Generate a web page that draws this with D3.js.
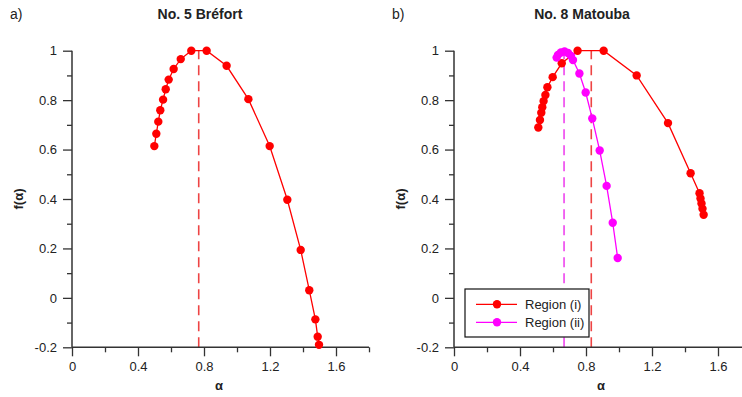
<!DOCTYPE html>
<html>
<head>
<meta charset="utf-8">
<script src="https://cdn.jsdelivr.net/npm/d3@7"></script>
<style>
  body { margin: 0; background: #fff; }
  svg { font-family: "Liberation Sans", Arial, sans-serif; }
</style>
</head>
<body>
<svg width="742" height="397"></svg>
<script>
// data
let brefortAlpha = [0.499, 0.511, 0.523, 0.535, 0.552, 0.568, 0.586, 0.616, 0.659, 0.723,
                    0.816, 0.937, 1.069, 1.198, 1.305, 1.386, 1.438, 1.475, 1.489, 1.497]
let brefortF     = [0.614, 0.664, 0.713, 0.759, 0.802, 0.844, 0.883, 0.926, 0.966, 1.0,
                    1.0, 0.939, 0.804, 0.614, 0.397, 0.194, 0.031, -0.087, -0.157, -0.19]
let brefortPeak = 0.768

let matoubaAlpha1 = [0.511, 0.521, 0.529, 0.535, 0.543, 0.554, 0.566, 0.598, 0.653, 0.749,
                     0.907, 1.107, 1.297, 1.434, 1.488, 1.494, 1.500, 1.506, 1.513]
let matoubaF1     = [0.689, 0.720, 0.749, 0.771, 0.796, 0.821, 0.852, 0.893, 0.949, 1.0,
                     1.0, 0.900, 0.707, 0.504, 0.423, 0.402, 0.382, 0.361, 0.336]
let matoubaPeak1 = 0.832

let matoubaAlpha2 = [0.622, 0.630, 0.648, 0.670, 0.691, 0.709, 0.721, 0.760, 0.798, 0.838, 0.883, 0.925, 0.962, 0.992]
let matoubaF2     = [0.972, 0.983, 0.993, 0.997, 0.991, 0.979, 0.962, 0.908, 0.831, 0.726, 0.596, 0.453, 0.304, 0.161]
let matoubaPeak2 = 0.667

let xMajor = [0, 0.4, 0.8, 1.2, 1.6]
let xMinor = [0.2, 0.6, 1.0, 1.4, 1.8]
let yMajor = [-0.2, 0, 0.2, 0.4, 0.6, 0.8, 1]
let yMinor = [-0.1, 0.1, 0.3, 0.5, 0.7, 0.9]
let legendLabels = ["Region (i)", "Region (ii)"]

let red = "#ff0000", magenta = "#ff00ff"

let svg = d3.select("svg")

let panels = [
  { left: 72, letter: "a)", title: "No. 5 Bréfort",
    series: [{ a: brefortAlpha, f: brefortF, color: red, peak: brefortPeak, dash: "#ee4444" }] },
  { left: 454, letter: "b)", title: "No. 8 Matouba", legend: true,
    series: [{ a: matoubaAlpha1, f: matoubaF1, color: red, peak: matoubaPeak1, dash: "#ee4444" },
             { a: matoubaAlpha2, f: matoubaF2, color: magenta, peak: matoubaPeak2, dash: "#ee44ee" }] }
]

let yTop = 50.7, yBottom = 347.3
let fmt = function(d){ return String(d) }  // plain hyphen minus like the original

panels.forEach(function(p){
  let x = d3.scaleLinear().domain([0, 1.8]).range([p.left, p.left + 297])
  let y = d3.scaleLinear().domain([-0.2, 1]).range([yBottom, yTop])
  let g = svg.append("g")

  // dashed peak lines first
  p.series.forEach(function(s){
    g.append("line")
      .attr("x1", x(s.peak)).attr("x2", x(s.peak))
      .attr("y1", y(-0.2)).attr("y2", y(1))
      .attr("stroke", s.dash)
      .attr("stroke-width", 1.6)
      .attr("stroke-dasharray", "10,6")
  })

  // axes
  let xAx = g.append("g").attr("transform", "translate(0," + yBottom + ")")
    .call(d3.axisBottom(x).tickValues(xMajor).tickSize(9).tickPadding(5).tickFormat(fmt))
  let xMin = g.append("g").attr("transform", "translate(0," + yBottom + ")")
    .call(d3.axisBottom(x).tickValues(xMinor).tickSize(5).tickFormat(""))
  let yAx = g.append("g").attr("transform", "translate(" + p.left + ",0)")
    .call(d3.axisLeft(y).tickValues(yMajor).tickSize(9).tickPadding(6).tickFormat(fmt))
  let yMin = g.append("g").attr("transform", "translate(" + p.left + ",0)")
    .call(d3.axisLeft(y).tickValues(yMinor).tickSize(5).tickFormat(""))

  ;[xAx, xMin, yAx, yMin].forEach(function(a){
    a.select(".domain").attr("stroke", "#333").attr("stroke-width", 1.5)
    a.selectAll(".tick line").attr("stroke", "#333").attr("stroke-width", 1.3)
    a.selectAll("text").attr("font-size", 13).attr("fill", "#222")
      .attr("font-family", "'Liberation Sans', Arial, sans-serif")
  })
  // make the domain lines plain (no outer ticks)
  xAx.select(".domain").attr("d", "M" + p.left + ",0H" + (p.left + 297))
  xMin.select(".domain").remove()
  yAx.select(".domain").attr("d", "M0," + yTop + "V" + yBottom)
  yMin.select(".domain").remove()

  // series
  let line = d3.line().x(function(d){ return x(d[0]) }).y(function(d){ return y(d[1]) })
  p.series.forEach(function(s){
    let pts = s.a.map(function(v, i){ return [v, s.f[i]] })
    g.append("path").datum(pts)
      .attr("d", line)
      .attr("fill", "none")
      .attr("stroke", s.color)
      .attr("stroke-width", 1.3)
    g.selectAll(null).data(pts).enter()
      .append("circle")
        .attr("cx", function(d){ return x(d[0]) })
        .attr("cy", function(d){ return y(d[1]) })
        .attr("r", 4.2)
        .attr("fill", s.color)
  })

  // texts
  g.append("text").attr("x", p.left - 62).attr("y", 19)
    .attr("font-size", 14).attr("fill", "#222").text(p.letter)
  g.append("text").attr("x", p.left + 128).attr("y", 19)
    .attr("text-anchor", "middle").attr("font-size", 14).attr("font-weight", "bold")
    .attr("fill", "#222").text(p.title)
  g.append("text").attr("x", p.left + 147).attr("y", 390)
    .attr("text-anchor", "middle").attr("font-size", 13).attr("font-weight", "bold")
    .attr("fill", "#222").text("α")
  g.append("text")
    .attr("transform", "translate(" + (p.left - 49) + "," + ((yTop + yBottom) / 2) + ") rotate(-90)")
    .attr("text-anchor", "middle").attr("font-size", 13).attr("font-weight", "bold")
    .attr("fill", "#222").text("f(α)")

  if (p.legend) {
    let lg = g.append("g")
    lg.append("rect")
      .attr("x", 465).attr("y", 289).attr("width", 124).attr("height", 48)
      .attr("fill", "#fff").attr("stroke", "#111").attr("stroke-width", 1.2)
    p.series.forEach(function(s, i){
      let yy = 304.3 + i * 18
      lg.append("line").attr("x1", 476).attr("x2", 517).attr("y1", yy).attr("y2", yy)
        .attr("stroke", s.color).attr("stroke-width", 1.3)
      lg.append("circle").attr("cx", 497).attr("cy", yy).attr("r", 4.2).attr("fill", s.color)
      lg.append("text").attr("x", 525).attr("y", yy + 4.5)
        .attr("font-size", 13).attr("fill", "#222").text(legendLabels[i])
    })
  }
})
</script>
</body>
</html>
